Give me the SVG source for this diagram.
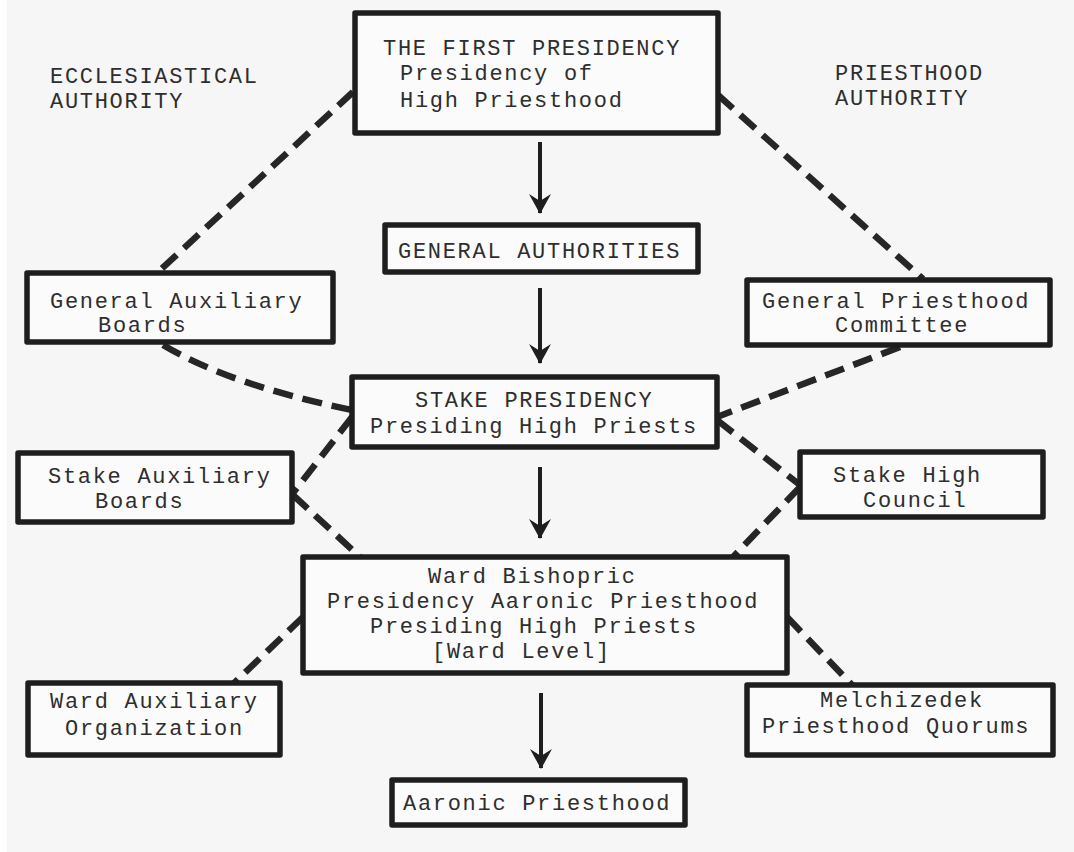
<svg xmlns="http://www.w3.org/2000/svg" width="1074" height="852" viewBox="0 0 1074 852">
<defs>
<marker id="ah" markerUnits="userSpaceOnUse" markerWidth="22" markerHeight="24" refX="20" refY="12" orient="auto" viewBox="0 0 22 24">
<path d="M1,1 L8,12 L1,23 L21,12 Z" fill="#1e1e1e"/>
</marker>
</defs>
<style>
.box{fill:#fbfbfb;stroke:#1e1e1e;stroke-width:5.5;stroke-linejoin:round}
.t{font-family:"Liberation Mono","Courier New",monospace;font-size:22px;letter-spacing:1.7px;fill:#2e2e2e}
.dash{fill:none;stroke:#262626;stroke-width:6.5;stroke-dasharray:20 10;stroke-linecap:butt}
.arr{fill:none;stroke:#1e1e1e;stroke-width:4}
</style>
<rect x="0" y="0" width="1074" height="852" fill="#f6f6f6"/>
<rect x="0" y="0" width="7" height="852" fill="#ffffff"/>

<g id="connectors">
<path class="dash" d="M353,92 L157,273"/>
<path class="dash" d="M718,95 L923,279"/>
<path class="dash" d="M163,345 Q230,385 352,410"/>
<path class="dash" d="M900,347 L717,417"/>
<path class="dash" d="M352,417 L293,493"/>
<path class="dash" d="M293,495 L360,557"/>
<path class="dash" d="M717,420 L800,485"/>
<path class="dash" d="M800,487 L733,557"/>
<path class="dash" d="M303,617 L233,684"/>
<path class="dash" d="M787,617 L853,686"/>
<line class="arr" x1="540" y1="142" x2="540" y2="213" marker-end="url(#ah)"/>
<line class="arr" x1="540" y1="288" x2="540" y2="363" marker-end="url(#ah)"/>
<line class="arr" x1="540" y1="467" x2="540" y2="538" marker-end="url(#ah)"/>
<line class="arr" x1="541" y1="693" x2="541" y2="768" marker-end="url(#ah)"/>
</g>

<g id="label-ecclesiastical">
<text class="t" x="50" y="83">ECCLESIASTICAL</text>
<text class="t" x="50" y="108">AUTHORITY</text>
</g>
<g id="label-priesthood">
<text class="t" x="835" y="80">PRIESTHOOD</text>
<text class="t" x="835" y="105">AUTHORITY</text>
</g>

<g id="first-presidency">
<rect class="box" x="355" y="13" width="363" height="120"/>
<text class="t" x="383" y="55">THE FIRST PRESIDENCY</text>
<text class="t" x="400" y="80">Presidency of</text>
<text class="t" x="400" y="107">High Priesthood</text>
</g>

<g id="general-authorities">
<rect class="box" x="385" y="225" width="313" height="47"/>
<text class="t" x="398" y="258">GENERAL AUTHORITIES</text>
</g>

<g id="general-auxiliary-boards">
<rect class="box" x="27" y="273" width="306" height="69"/>
<text class="t" x="50" y="308">General Auxiliary</text>
<text class="t" x="98" y="332">Boards</text>
</g>

<g id="general-priesthood-committee">
<rect class="box" x="747" y="280" width="303" height="65"/>
<text class="t" x="762" y="308">General Priesthood</text>
<text class="t" x="835" y="332">Committee</text>
</g>

<g id="stake-presidency">
<rect class="box" x="352" y="377" width="365" height="70"/>
<text class="t" x="415" y="407">STAKE PRESIDENCY</text>
<text class="t" x="370" y="433">Presiding High Priests</text>
</g>

<g id="stake-auxiliary-boards">
<rect class="box" x="18" y="453" width="274" height="69"/>
<text class="t" x="48" y="483">Stake Auxiliary</text>
<text class="t" x="95" y="508">Boards</text>
</g>

<g id="stake-high-council">
<rect class="box" x="800" y="452" width="243" height="65"/>
<text class="t" x="833" y="482">Stake High</text>
<text class="t" x="863" y="507">Council</text>
</g>

<g id="ward-bishopric">
<rect class="box" x="303" y="557" width="484" height="116"/>
<text class="t" x="428" y="583">Ward Bishopric</text>
<text class="t" x="327" y="608">Presidency Aaronic Priesthood</text>
<text class="t" x="370" y="633">Presiding High Priests</text>
<text class="t" x="432" y="658">[Ward Level]</text>
</g>

<g id="ward-auxiliary-organization">
<rect class="box" x="28" y="683" width="252" height="72"/>
<text class="t" x="50" y="708">Ward Auxiliary</text>
<text class="t" x="65" y="735">Organization</text>
</g>

<g id="melchizedek-priesthood-quorums">
<rect class="box" x="747" y="685" width="306" height="70"/>
<text class="t" x="820" y="707">Melchizedek</text>
<text class="t" x="762" y="733">Priesthood Quorums</text>
</g>

<g id="aaronic-priesthood">
<rect class="box" x="392" y="780" width="293" height="45"/>
<text class="t" x="403" y="810">Aaronic Priesthood</text>
</g>
</svg>
